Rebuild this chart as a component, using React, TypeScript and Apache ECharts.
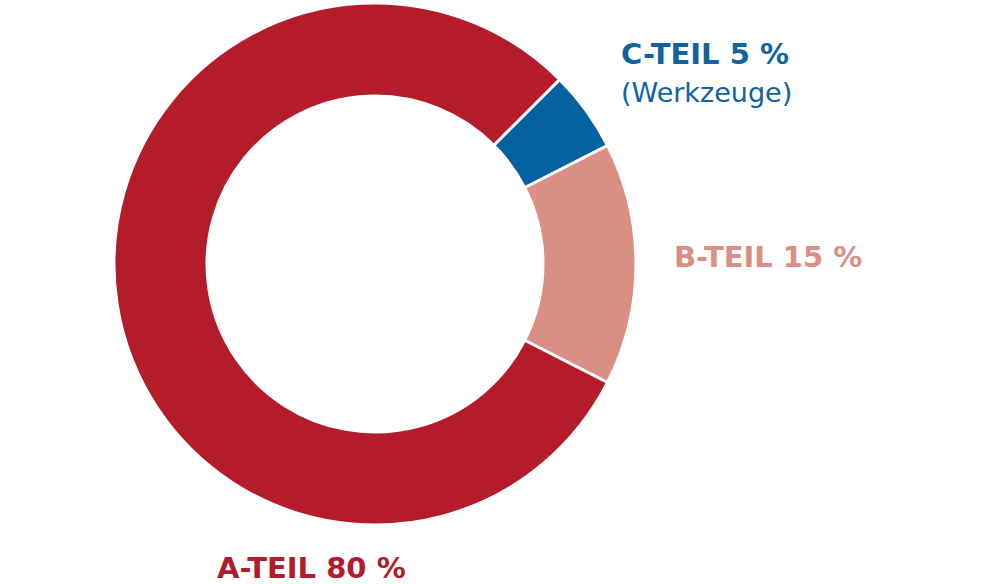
import React, { useEffect, useRef } from "react";
import * as echarts from "echarts";

const categories = ["C-TEIL", "B-TEIL", "A-TEIL"];
const shares = [5, 15, 80];
const notes = ["(Werkzeuge)", "", ""];
const sliceColors = ["#0562A0", "#D98F83", "#B41C2C"];
const labelColors = ["#10639F", "#D98F84", "#B01C2C"];
const labelPos = [
  { x: 621, y: 73 },
  { x: 674, y: 257 },
  { x: 217, y: 568 },
];

export default function App() {
  const ref = useRef<HTMLDivElement>(null);
  useEffect(() => {
    document.body.style.margin = "0";
    const chart = echarts.init(ref.current!, null, { renderer: "svg" });
    chart.setOption({
      animation: false,
      backgroundColor: "#ffffff",
      series: [
        {
          type: "pie",
          center: [375, 264],
          radius: [168, 261],
          startAngle: 45,
          clockwise: true,
          silent: true,
          avoidLabelOverlap: false,
          itemStyle: { borderColor: "#ffffff", borderWidth: 3 },
          labelLine: { show: false },
          label: {
            show: true,
            position: "outside",
            overflow: "none",
            width: 400,
            fontFamily: "DejaVu Sans",
            fontWeight: "bold",
            fontSize: 29,
            formatter: (p: any) => {
              const i = p.dataIndex;
              const main = `{m${i}|${categories[i]} ${shares[i]} %}`;
              return notes[i] ? `${main}\n{n${i}|${notes[i]}}` : main;
            },
            rich: Object.fromEntries(
              categories.flatMap((_, i) => [
                [
                  `m${i}`,
                  {
                    fontFamily: "DejaVu Sans",
                    fontWeight: "bold",
                    fontSize: 29,
                    color: labelColors[i],
                    lineHeight: 38,
                  },
                ],
                [
                  `n${i}`,
                  {
                    fontFamily: "DejaVu Sans",
                    fontWeight: "normal",
                    fontSize: 27,
                    color: labelColors[i],
                    lineHeight: 38,
                  },
                ],
              ])
            ),
          },
          labelLayout: (params: any) => ({
            x: labelPos[params.dataIndex].x,
            y: labelPos[params.dataIndex].y,
            align: "left",
            verticalAlign: "middle",
            hideOverlap: false,
          }),
          data: categories.map((c, i) => ({
            name: c,
            value: shares[i],
            itemStyle: { color: sliceColors[i] },
          })),
        },
      ],
    });
    return () => chart.dispose();
  }, []);
  return <div ref={ref} style={{ width: 1000, height: 584 }} />;
}
